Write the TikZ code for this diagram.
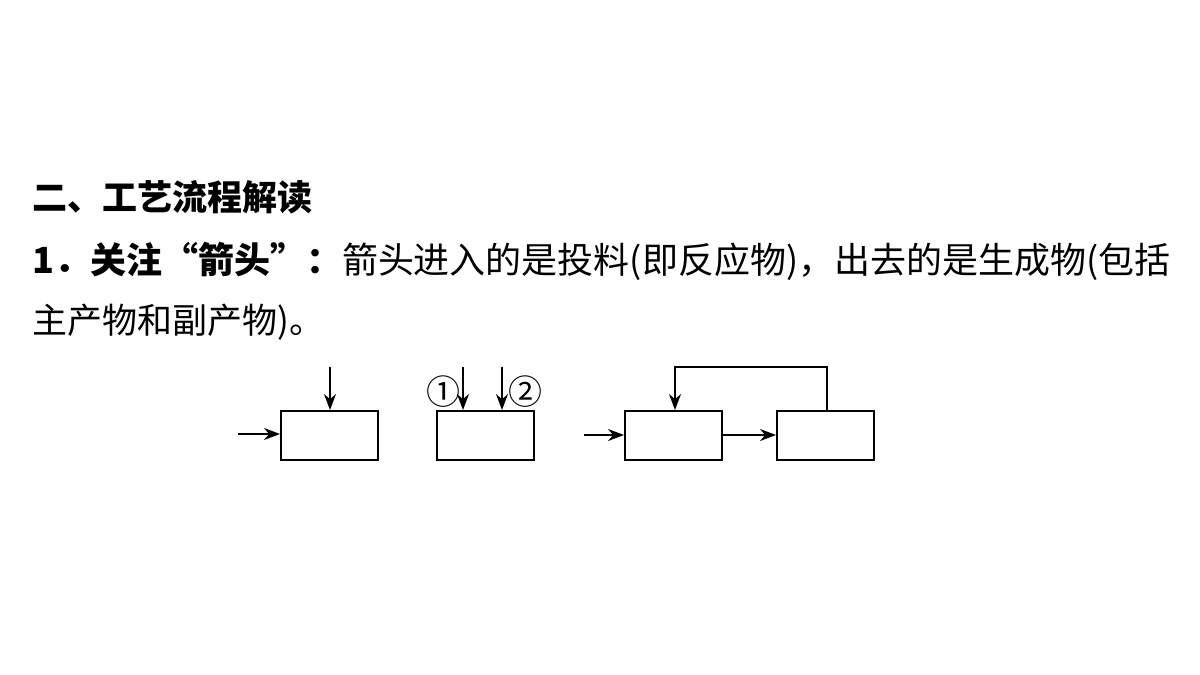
\documentclass[tikz,border=0pt]{standalone}
\usepackage{fontspec}
\setmainfont{Liberation Serif}
\newfontfamily\cjk{Noto Sans CJK SC}
\usetikzlibrary{arrows.meta}
\begin{document}
\begin{tikzpicture}[x=1pt,y=-1pt,
  bx/.style={draw,line width=1.6pt,minimum width=97pt,minimum height=49pt,inner sep=0,anchor=north west},
  ar/.style={line width=1.5pt,-{Stealth[length=16pt,width=12pt]}},
  txt/.style={anchor=west,inner sep=0,font=\fontsize{35}{40}\selectfont\cjk}]
\useasboundingbox (0,0) rectangle (1200,675);
\node[txt] (t1) at (32,197) {\bfseries 二、工艺流程解读};
\node[txt] (t2) at (32,261) {\resizebox{1138pt}{!}{\textbf{1．关注“箭头”：}箭头进入的是投料(即反应物)，出去的是生成物(包括}};
\node[txt] (t3) at (32,322) {主产物和副产物)。};
\node[bx] (b1) at (280,410) {};
\node[bx] (b2) at (436,410) {};
\node[bx] (b3) at (624,410) {};
\node[bx] (b4) at (776,410) {};
\coordinate (a1) at (238,434);
\coordinate (a2) at (330,367);
\coordinate (a3) at (463,367);
\coordinate (a4) at (502,367);
\coordinate (a5) at (584,435);
\draw[ar] (a1) -- (a1 -| b1.west);
\draw[ar] (a2) -- (a2 |- b1.north);
\draw[ar] (a3) -- (a3 |- b2.north);
\draw[ar] (a4) -- (a4 |- b2.north);
\draw[ar] (a5) -- (a5 -| b3.west);
\draw[ar] (b3.east |- a5) -- (b4.west |- a5);
\coordinate (f1) at (827,367);
\coordinate (f2) at (675,367);
\draw[ar] (f1 |- b4.north) -- (f1) -- (f2) -- (f2 |- b3.north);
\node[font=\fontsize{34}{34}\selectfont\cjk,inner sep=0] (c1) at (443,392) {①};
\node[font=\fontsize{34}{34}\selectfont\cjk,inner sep=0] (c2) at (525,392) {②};
\end{tikzpicture}
\end{document}
